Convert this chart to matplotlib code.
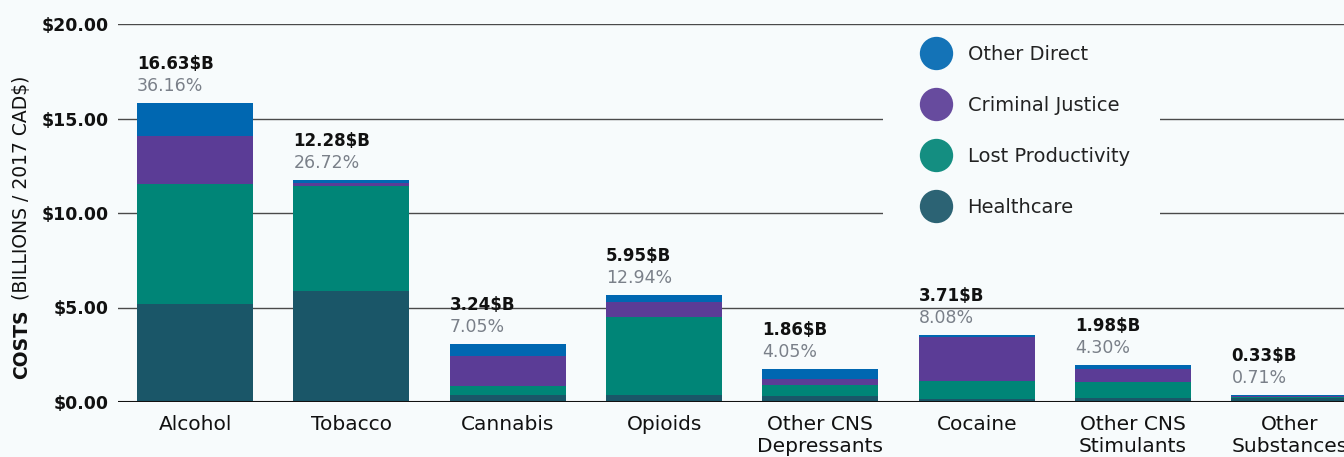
import numpy as np
import matplotlib.pyplot as plt
from matplotlib.lines import Line2D
from matplotlib.patches import Rectangle

plt.rcParams['font.family'] = ['DejaVu Sans']

substances = ['Alcohol', 'Tobacco', 'Cannabis', 'Opioids', 'Other CNS\nDepressants',
              'Cocaine', 'Other CNS\nStimulants', 'Other\nSubstances']

# cost breakdown, billions of 2017 CAD$
healthcare = [5.19, 5.87, 0.37, 0.37, 0.34, 0.16, 0.23, 0.19]
lost_productivity = [6.34, 5.56, 0.49, 4.13, 0.56, 0.95, 0.83, 0.09]
criminal_justice = [2.54, 0.16, 1.59, 0.81, 0.32, 2.33, 0.69, 0.05]
other_direct = [1.73, 0.16, 0.62, 0.35, 0.53, 0.11, 0.21, 0.04]

totals = [16.63, 12.28, 3.24, 5.95, 1.86, 3.71, 1.98, 0.33]
shares = [36.16, 26.72, 7.05, 12.94, 4.05, 8.08, 4.30, 0.71]

yticks = [0, 5, 10, 15, 20]

bg = '#f7fbfc'
c_health = '#1a5668'
c_lost = '#008577'
c_crime = '#5b3c96'
c_other = '#0067b1'

fig = plt.figure(figsize=(13.44, 4.57), dpi=100, facecolor=bg)
ax = fig.add_axes([118 / 1344, 55 / 457, 1226 / 1344, 378 / 457])
ax.set_facecolor(bg)

x = np.arange(len(substances))
w = 0.742
series = [(healthcare, c_health, 'Healthcare'),
          (lost_productivity, c_lost, 'Lost Productivity'),
          (criminal_justice, c_crime, 'Criminal Justice'),
          (other_direct, c_other, 'Other Direct')]
bottom = np.zeros(len(x))
for vals, col, name in series:
    ax.bar(x, vals, w, bottom=bottom, color=col, zorder=2, label=name)
    bottom += np.array(vals)

# total and share labels above each stack
for i in range(len(x)):
    ax.annotate(f'{totals[i]:.2f}$B', (x[i] - w / 2, bottom[i]), xytext=(0, 34),
                textcoords='offset pixels', ha='left', va='baseline',
                fontsize=12, fontweight='bold', color='#111111', zorder=6)
    ax.annotate(f'{shares[i]:.2f}%', (x[i] - w / 2, bottom[i]), xytext=(0, 12),
                textcoords='offset pixels', ha='left', va='baseline',
                fontsize=12.5, color='#7a8089', zorder=6)

ax.set_xlim(-0.493, 7.349)
ax.set_ylim(0, 20)
ax.set_yticks(yticks)
ax.set_yticklabels([f'${t:.2f}' for t in yticks], fontsize=12.5, fontweight='bold', color='#111111')
ax.set_xticks(x)
ax.set_xticklabels(substances, fontsize=14.5, color='#111111', linespacing=1.2)
ax.tick_params(axis='both', length=0)
ax.tick_params(axis='y', pad=7)
ax.tick_params(axis='x', pad=9)
for s in ax.spines.values():
    s.set_visible(False)
ax.set_axisbelow(True)
ax.grid(axis='y', color='#4a4a4a', lw=1.0, zorder=0.5)
ax.axhline(0, color='#111111', lw=1.5, zorder=3)

# blank area behind the legend
ax.add_patch(Rectangle((883 / 1344, 1 - 232 / 457), 277 / 1344, 202 / 457,
                       transform=fig.transFigure, facecolor=bg, edgecolor='none',
                       zorder=1, clip_on=False))

handles = [Line2D([], [], ls='', marker='o', markersize=24, markeredgewidth=0,
                  color=col, alpha=0.92) for _, col, _ in series[::-1]]
labels = [name for _, _, name in series[::-1]]
leg = ax.legend(handles, labels, loc='upper left', bbox_to_anchor=(917 / 1344, 1 - 45 / 457),
                bbox_transform=fig.transFigure, frameon=False, fontsize=14,
                handlelength=1.95, handletextpad=0.65, labelspacing=1.65,
                borderpad=0, borderaxespad=0)
for t in leg.get_texts():
    t.set_color('#222222')

# axis title with a bold lead word
t1 = fig.text(27 / 1344, 1 - 379 / 457, 'COSTS', rotation=90, rotation_mode='anchor',
              ha='left', va='baseline', fontsize=13.5, fontweight='bold', color='#111111')
fig.canvas.draw()
bb = t1.get_window_extent()
fig.text(27 / 1344, (bb.y1 + 9) / fig.bbox.height, '(BILLIONS / 2017 CAD$)', rotation=90,
         rotation_mode='anchor', ha='left', va='baseline', fontsize=13.5, color='#111111')

fig.savefig('out.png', dpi=100, facecolor=bg)
